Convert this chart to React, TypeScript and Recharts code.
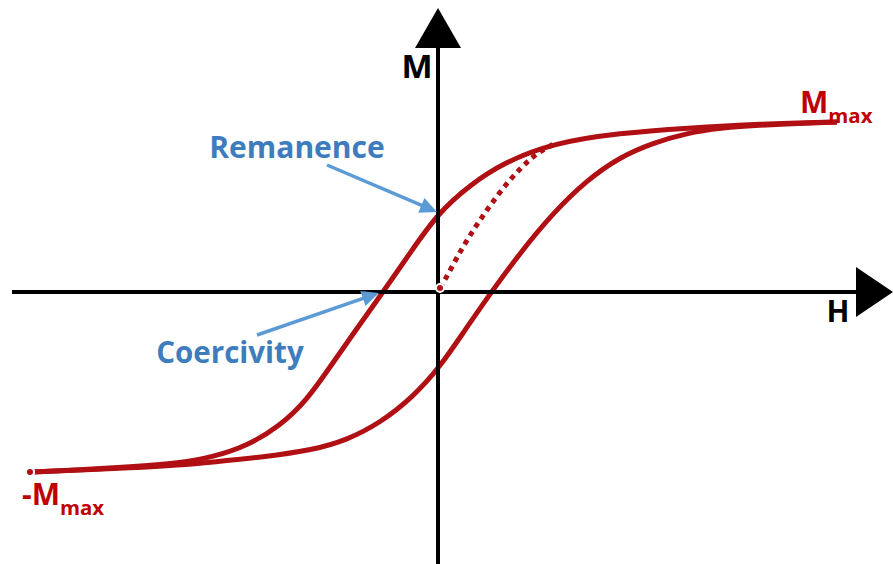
import { LineChart, Line, XAxis, YAxis, ReferenceLine, ReferenceDot } from "recharts";

// descending branch (coming back from +Mmax), sorted by H
const descendingBranch = [
  { h: -40.8, m: -18.0 },
  { h: -35.8, m: -17.8 },
  { h: -30.8, m: -17.5 },
  { h: -25.8, m: -17.1 },
  { h: -22.5, m: -16.5 },
  { h: -19.1, m: -15.4 },
  { h: -15.8, m: -13.4 },
  { h: -13.1, m: -10.8 },
  { h: -10.8, m: -7.5 },
  { h: -8.5, m: -4.2 },
  { h: -5.5, m: 0 },
  { h: -2.8, m: 3.9 },
  { h: 0, m: 7.9 },
  { h: 3.2, m: 10.7 },
  { h: 6.5, m: 12.9 },
  { h: 11.5, m: 14.9 },
  { h: 18.2, m: 15.9 },
  { h: 24.9, m: 16.4 },
  { h: 32.2, m: 16.8 },
  { h: 39.9, m: 17.0 },
];

// ascending branch (coming up from -Mmax)
const ascendingBranch = [
  { h: -40.8, m: -18.0 },
  { h: -35.8, m: -17.8 },
  { h: -30.8, m: -17.6 },
  { h: -25.8, m: -17.3 },
  { h: -22.5, m: -17.0 },
  { h: -17.5, m: -16.5 },
  { h: -12.5, m: -15.8 },
  { h: -9.1, m: -14.8 },
  { h: -5.8, m: -13.1 },
  { h: -2.5, m: -10.5 },
  { h: 0.2, m: -7.5 },
  { h: 2.7, m: -3.8 },
  { h: 5.2, m: -0.2 },
  { h: 8.2, m: 3.9 },
  { h: 11.5, m: 7.9 },
  { h: 14.9, m: 11.2 },
  { h: 18.2, m: 13.5 },
  { h: 21.5, m: 14.9 },
  { h: 24.9, m: 15.9 },
  { h: 28.2, m: 16.4 },
  { h: 32.2, m: 16.7 },
  { h: 39.9, m: 17.0 },
];

// initial magnetisation curve (dotted)
const initialCurve = [
  { h: 0.2, m: 0.4 },
  { h: 0.5, m: 0.9 },
  { h: 2.5, m: 4.5 },
  { h: 4.9, m: 8.2 },
  { h: 7.2, m: 11.2 },
  { h: 9.5, m: 13.5 },
  { h: 11.8, m: 14.9 },
];

const axisLabels = { m: "M", h: "H" };
const annotations = { remanence: "Remanence", coercivity: "Coercivity" };

const RED = "#b00f14";
const TEXT_RED = "#c00000";
const BLUE_TEXT = "#3d7dbd";
const BLUE_ARROW = "#5b9bd5";
const FONT = "'Open Sans', sans-serif";

function arrow(head: number, half: number, color: string, width: number) {
  return (p: any) => {
    const { x1, y1, x2, y2 } = p;
    const dx = x2 - x1;
    const dy = y2 - y1;
    const len = Math.hypot(dx, dy) || 1;
    const ux = dx / len;
    const uy = dy / len;
    const bx = x2 - ux * head;
    const by = y2 - uy * head;
    const pts = `${x2},${y2} ${bx - uy * half},${by + ux * half} ${bx + uy * half},${by - ux * half}`;
    return (
      <g>
        <line x1={x1} y1={y1} x2={bx + ux} y2={by + uy} stroke={color} strokeWidth={width} />
        <polygon points={pts} fill={color} />
      </g>
    );
  };
}

function label(text: string, size: number, color: string, anchor: "start" | "middle" = "middle", sub?: string) {
  return (p: any) => (
    <text x={p.cx} y={p.cy} textAnchor={anchor} fill={color} fontFamily={FONT} fontWeight={700} fontSize={size}>
      {text}
      {sub && (
        <tspan fontSize={size * 0.68} dy={size * 0.32}>
          {sub}
        </tspan>
      )}
    </text>
  );
}

export default function App() {
  return (
    <div style={{ position: "absolute", left: 0, top: 0, background: "#fff" }}>
      <LineChart width={893} height={564} margin={{ top: 0, right: 0, bottom: 0, left: 0 }}>
        <XAxis dataKey="h" type="number" domain={[-43.8, 45.5]} allowDataOverflow hide />
        <YAxis dataKey="m" type="number" domain={[-27.2, 29.2]} allowDataOverflow hide />

        <Line data={descendingBranch} dataKey="m" type="basis" stroke={RED} strokeWidth={5} dot={false} isAnimationActive={false} />
        <Line data={ascendingBranch} dataKey="m" type="basis" stroke={RED} strokeWidth={5} dot={false} isAnimationActive={false} />
        <Line
          data={initialCurve}
          dataKey="m"
          type="monotone"
          stroke={RED}
          strokeWidth={5}
          strokeDasharray="5 5"
          dot={false}
          isAnimationActive={false}
        />

        {/* axes with arrowheads */}
        <ReferenceLine segment={[{ x: -42.6, y: 0 }, { x: 45.5, y: 0 }]} ifOverflow="visible" shape={arrow(37, 25, "#000", 4)} />
        <ReferenceLine segment={[{ x: 0, y: -27.2 }, { x: 0, y: 28.4 }]} ifOverflow="visible" shape={arrow(40, 23, "#000", 4)} />

        {/* annotation arrows */}
        <ReferenceLine segment={[{ x: -11.1, y: 12.7 }, { x: -0.1, y: 8.0 }]} ifOverflow="visible" shape={arrow(17, 8, BLUE_ARROW, 3.5)} />
        <ReferenceLine segment={[{ x: -18.1, y: -4.3 }, { x: -5.9, y: -0.1 }]} ifOverflow="visible" shape={arrow(17, 8, BLUE_ARROW, 3.5)} />

        <ReferenceDot x={-2.1} y={21.4} ifOverflow="visible" shape={label(axisLabels.m, 33, "#000")} />
        <ReferenceDot x={40.0} y={-3.0} ifOverflow="visible" shape={label(axisLabels.h, 30, "#000")} />
        <ReferenceDot x={-14.1} y={13.4} ifOverflow="visible" shape={label(annotations.remanence, 30, BLUE_TEXT)} />
        <ReferenceDot x={-20.8} y={-7.1} ifOverflow="visible" shape={label(annotations.coercivity, 29.5, BLUE_TEXT)} />
        <ReferenceDot x={36.2} y={17.9} ifOverflow="visible" shape={label("M", 30, TEXT_RED, "start", "max")} />
        <ReferenceDot x={-41.6} y={-21.3} ifOverflow="visible" shape={label("-M", 30, TEXT_RED, "start", "max")} />
      </LineChart>
    </div>
  );
}
